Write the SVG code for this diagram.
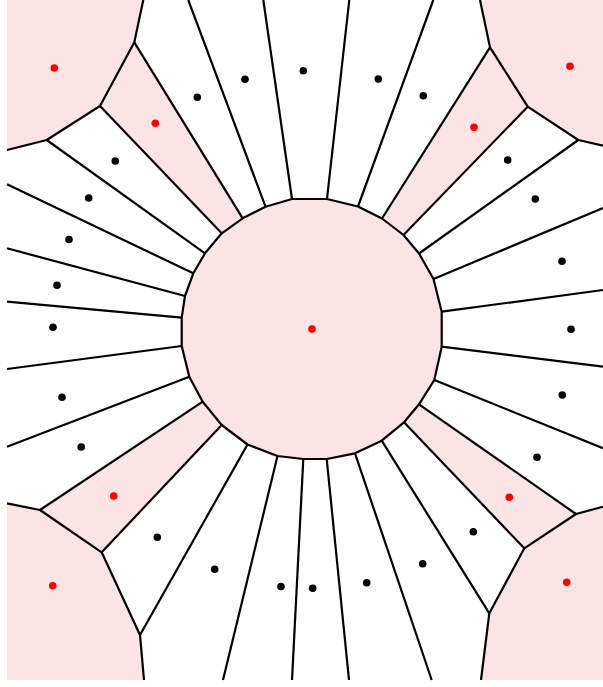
<svg xmlns="http://www.w3.org/2000/svg" width="603" height="687" viewBox="0 0 603 687">
<style>
.cell{fill:#fde4e4;stroke:none}
.e{fill:none;stroke:#000;stroke-width:2.2;stroke-linejoin:round}
.s{fill:#000}
.r{fill:#ff0000}
</style>
<rect x="0" y="0" width="603" height="687" fill="#fff"/>
<g id="cells">
<polygon class="cell" points="7,0 143.3,0 134.3,42.3 100,106 46.7,140 7,150"/>
<polygon class="cell" points="480,0 490,47.3 527.7,106.7 578.3,140 603,145.7 603,0"/>
<polygon class="cell" points="7,503.3 40,510 101.7,552.3 140,635 144,680 7,680"/>
<polygon class="cell" points="603,506.7 576,514 524.3,548.3 489.3,613.3 481,680 603,680"/>
<polygon class="cell" points="221.7,233.3 100,106 134.3,42.3 242.7,218.3"/>
<polygon class="cell" points="382,218.5 490,47.3 527.7,106.7 403.5,235"/>
<polygon class="cell" points="221.7,425 101.7,552.3 40,510 202.7,401.7"/>
<polygon class="cell" points="419,404.3 576,514 524.3,548.3 404,422.3"/>
</g>
<g id="connectors">
<polygon class="e" fill="#fde4e4" style="fill:#fde4e4" points="292,199 327,199 358,206.5 382,218.5 403.5,235 419,253.5 433.5,279 441.7,311.7 441.7,346.7 434.3,380 419,404.3 404,422.3 381.7,440.7 355,453.3 326.7,459 303.3,459 277.5,456 247.5,444.5 221.7,425 202.7,401.7 189.3,376.7 181.7,346 181.7,317.7 185,296 193.3,273.3 205,253.3 221.7,233.3 242.7,218.3 265.5,206.7"/>
<polyline class="e" points="143.3,0 134.3,42.3 100,106 46.7,140 7,150"/>
<polyline class="e" points="480,0 490,47.3 527.7,106.7 578.3,140 603,145.7"/>
<polyline class="e" points="7,503.3 40,510 101.7,552.3 140,635 144,680"/>
<polyline class="e" points="603,506.7 576,514 524.3,548.3 489.3,613.3 481,680"/>
<line class="e" x1="292" y1="199" x2="263.3" y2="0"/>
<line class="e" x1="327" y1="199" x2="349.3" y2="0"/>
<line class="e" x1="358" y1="206.5" x2="433.3" y2="0"/>
<line class="e" x1="382" y1="218.5" x2="490" y2="47.3"/>
<line class="e" x1="403.5" y1="235" x2="527.7" y2="106.7"/>
<line class="e" x1="419" y1="253.5" x2="578.3" y2="140"/>
<line class="e" x1="433.5" y1="279" x2="603" y2="208"/>
<line class="e" x1="441.7" y1="311.7" x2="603" y2="290"/>
<line class="e" x1="441.7" y1="346.7" x2="603" y2="366.7"/>
<line class="e" x1="434.3" y1="380" x2="603" y2="448.3"/>
<line class="e" x1="419" y1="404.3" x2="576" y2="514"/>
<line class="e" x1="404" y1="422.3" x2="524.3" y2="548.3"/>
<line class="e" x1="381.7" y1="440.7" x2="489.3" y2="613.3"/>
<line class="e" x1="355" y1="453.3" x2="431.7" y2="680"/>
<line class="e" x1="326.7" y1="459" x2="349" y2="680"/>
<line class="e" x1="303.3" y1="459" x2="292" y2="680"/>
<line class="e" x1="277.5" y1="456" x2="223" y2="680"/>
<line class="e" x1="247.5" y1="444.5" x2="140" y2="635"/>
<line class="e" x1="221.7" y1="425" x2="101.7" y2="552.3"/>
<line class="e" x1="202.7" y1="401.7" x2="40" y2="510"/>
<line class="e" x1="189.3" y1="376.7" x2="7" y2="446.7"/>
<line class="e" x1="181.7" y1="346" x2="7" y2="369"/>
<line class="e" x1="181.7" y1="317.7" x2="7" y2="301.7"/>
<line class="e" x1="185" y1="296" x2="7" y2="248.3"/>
<line class="e" x1="193.3" y1="273.3" x2="7" y2="184.3"/>
<line class="e" x1="205" y1="253.3" x2="46.7" y2="140"/>
<line class="e" x1="221.7" y1="233.3" x2="100" y2="106"/>
<line class="e" x1="242.7" y1="218.3" x2="134.3" y2="42.3"/>
<line class="e" x1="265.5" y1="206.7" x2="188.3" y2="0"/>
</g>
<g id="sites">
<circle id="c0" class="r" cx="312" cy="329" r="3.8"/>
<circle id="c1" class="r" cx="54.3" cy="68" r="3.8"/>
<circle id="c2" class="r" cx="570" cy="66.3" r="3.8"/>
<circle id="c3" class="r" cx="52.7" cy="585.7" r="3.8"/>
<circle id="c4" class="r" cx="566.7" cy="582.3" r="3.8"/>
<circle id="c5" class="r" cx="155.3" cy="123.3" r="3.8"/>
<circle id="c6" class="r" cx="474" cy="127.3" r="3.8"/>
<circle id="c7" class="r" cx="113.7" cy="496" r="3.8"/>
<circle id="c8" class="r" cx="509.3" cy="497.3" r="3.8"/>
<circle class="s" cx="303.3" cy="70.7" r="3.8"/>
<circle class="s" cx="378.3" cy="79" r="3.8"/>
<circle class="s" cx="423.3" cy="95.7" r="3.8"/>
<circle class="s" cx="507.7" cy="160" r="3.8"/>
<circle class="s" cx="535.3" cy="199" r="3.8"/>
<circle class="s" cx="562" cy="261.3" r="3.8"/>
<circle class="s" cx="571" cy="329.3" r="3.8"/>
<circle class="s" cx="562.3" cy="395" r="3.8"/>
<circle class="s" cx="537" cy="457.2" r="3.8"/>
<circle class="s" cx="473.3" cy="531.7" r="3.8"/>
<circle class="s" cx="422.7" cy="563.7" r="3.8"/>
<circle class="s" cx="366.7" cy="582.7" r="3.8"/>
<circle class="s" cx="312.7" cy="588.2" r="3.8"/>
<circle class="s" cx="281" cy="586.5" r="3.8"/>
<circle class="s" cx="214.7" cy="569.3" r="3.8"/>
<circle class="s" cx="157.3" cy="537.3" r="3.8"/>
<circle class="s" cx="81.2" cy="447" r="3.8"/>
<circle class="s" cx="62" cy="397.3" r="3.8"/>
<circle class="s" cx="53" cy="327.3" r="3.8"/>
<circle class="s" cx="57" cy="285.3" r="3.8"/>
<circle class="s" cx="69" cy="239.5" r="3.8"/>
<circle class="s" cx="88.7" cy="198" r="3.8"/>
<circle class="s" cx="115.3" cy="161" r="3.8"/>
<circle class="s" cx="197.3" cy="97.3" r="3.8"/>
<circle class="s" cx="245" cy="79.3" r="3.8"/>
</g>
</svg>
